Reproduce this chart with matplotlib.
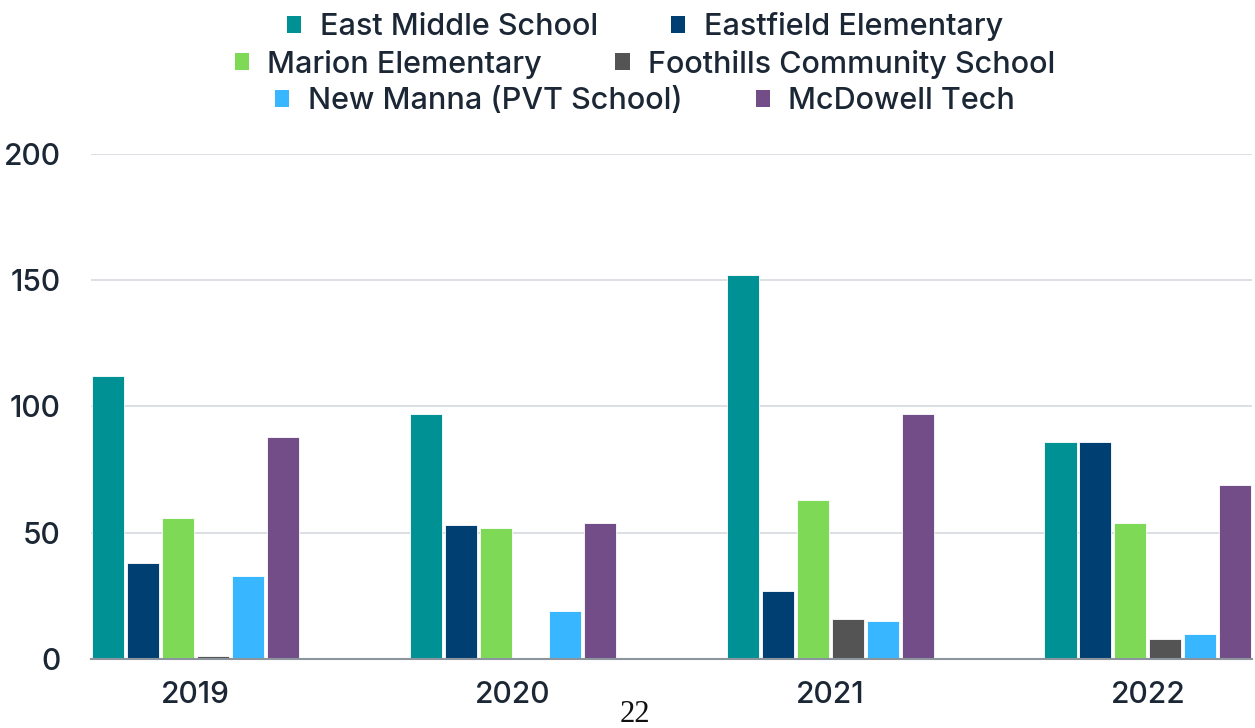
import numpy as np
import matplotlib
matplotlib.use("Agg")
import matplotlib.pyplot as plt
from matplotlib.patches import Patch

# Data
years = ["2019", "2020", "2021", "2022"]
schools = ["East Middle School", "Eastfield Elementary", "Marion Elementary",
           "Foothills Community School", "New Manna (PVT School)", "McDowell Tech"]
east_middle = [112, 97, 152, 86]
eastfield = [38, 53, 27, 86]
marion = [56, 52, 63, 54]
foothills = [1, 0, 16, 8]
new_manna = [33, 19, 15, 10]
mcdowell = [88, 54, 97, 69]
series = [east_middle, eastfield, marion, foothills, new_manna, mcdowell]
colors = ["#009194", "#003f71", "#7ed957", "#545454", "#38b6ff", "#734d88"]

text_color = "#1b2735"
plt.rcParams["font.family"] = ["Inter", "DejaVu Sans"]
plt.rcParams["font.weight"] = "medium"

fig = plt.figure(figsize=(12.55, 7.28), dpi=100)
ax = fig.add_axes([0.0725, 0.0948, 0.9255, 0.6937])

x = np.arange(len(years))
step = 0.11
width = 0.101
for j, (vals, c) in enumerate(zip(series, colors)):
    ax.bar(x + (j - 2.5) * step, vals, width=width, color=c,
           edgecolor="white", linewidth=0.6, zorder=3)

ax.set_xlim(-0.33, 3.33)
ax.set_ylim(0, 200)
ax.set_yticks([0, 50, 100, 150, 200])
ax.set_xticks(x)
ax.set_xticklabels(years)
ax.tick_params(axis="both", length=0, labelsize=21.5, colors=text_color)
ax.tick_params(axis="y", pad=22)
ax.tick_params(axis="x", pad=16)
ax.grid(axis="y", color="#d5d9de", linewidth=1.2, zorder=0)
for s in ["top", "right", "left"]:
    ax.spines[s].set_visible(False)
ax.spines["bottom"].set_color("#8c959e")
ax.spines["bottom"].set_linewidth(1.5)
ax.spines["bottom"].set_zorder(4)

# legend: three centred rows of two entries
rows_y = [0.963, 0.912, 0.861]
for r, yy in enumerate(rows_y):
    handles = [Patch(facecolor=colors[k]) for k in (2 * r, 2 * r + 1)]
    labels = [schools[k] for k in (2 * r, 2 * r + 1)]
    leg = fig.legend(handles, labels, loc="center", bbox_to_anchor=(0.514, yy),
                     ncol=2, frameon=False, fontsize=22, handlelength=0.46,
                     handleheight=0.46, handletextpad=0.6, columnspacing=2.4,
                     labelcolor=text_color)

fig.text(0.506, 0.019, "22", family="Liberation Serif", fontsize=22,
         color="#111111", ha="center", va="center")

fig.savefig("out.png", dpi=100, facecolor="white")
